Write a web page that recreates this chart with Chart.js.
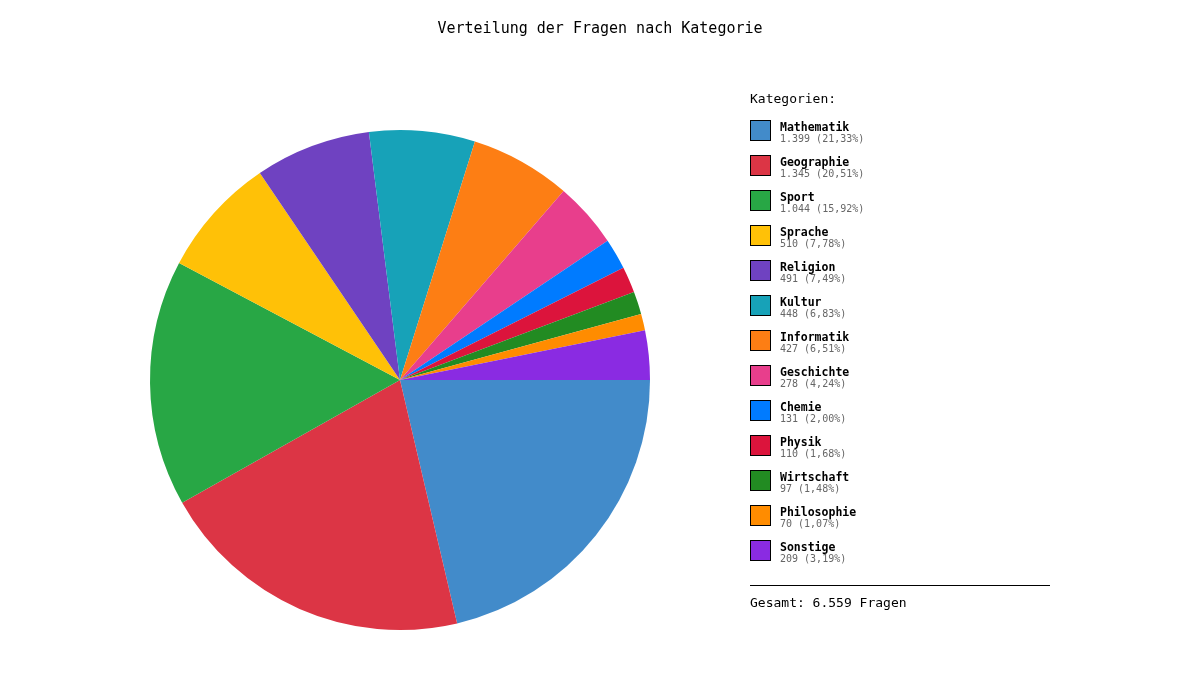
<!DOCTYPE html>
<html>
<head>
<meta charset="utf-8">
<script src="https://cdn.jsdelivr.net/npm/chart.js@4/dist/chart.umd.min.js"></script>
<style>
  html, body { margin: 0; padding: 0; background: #fff; }
  #wrap { width: 1200px; height: 700px; }
</style>
</head>
<body>
<div id="wrap"><canvas id="chart" width="1200" height="700"></canvas></div>
<script>
// categories and counts
const categories = ["Mathematik", "Geographie", "Sport", "Sprache", "Religion", "Kultur", "Informatik",
                    "Geschichte", "Chemie", "Physik", "Wirtschaft", "Philosophie", "Sonstige"];
const counts = [1399, 1345, 1044, 510, 491, 448, 427, 278, 131, 110, 97, 70, 209];
const colors = ["#428bca", "#dc3545", "#28a745", "#ffc107", "#6f42c1", "#17a2b8", "#fd7e14",
                "#e83e8c", "#007bff", "#dc143c", "#228b22", "#ff8c00", "#8a2be2"];

const MONO = '"DejaVu Sans Mono", "Liberation Mono", monospace';
const total = counts.reduce((a, b) => a + b, 0);

function fmtInt(n){
    return String(n).replace(/\B(?=(\d{3})+(?!\d))/g, ".");
}
function fmtPct(v){
    return (v * 100 / total).toFixed(2).replace(".", ",") + "%";
}

// title + side legend drawn by hand
const sideLegend = {
    id: "sideLegend",
    afterDraw(chart){
        const ctx = chart.ctx;
        ctx.save();
        ctx.fillStyle = "#000";
        ctx.textBaseline = "alphabetic";
        ctx.font = "15px " + MONO;
        ctx.textAlign = "center";
        ctx.fillText("Verteilung der Fragen nach Kategorie", 600, 33);

        ctx.textAlign = "left";
        ctx.font = "13px " + MONO;
        ctx.fillText("Kategorien:", 750, 103);

        let y = 120;
        for(let i = 0; i < categories.length; i++){
            ctx.fillStyle = colors[i];
            ctx.fillRect(750, y, 20, 20);
            ctx.strokeStyle = "#000";
            ctx.lineWidth = 1;
            ctx.strokeRect(750.5, y + 0.5, 20, 20);
            ctx.fillStyle = "#000";
            ctx.font = "bold 11.5px " + MONO;
            ctx.fillText(categories[i], 780, y + 11);
            ctx.fillStyle = "#666";
            ctx.font = "10px " + MONO;
            ctx.fillText(fmtInt(counts[i]) + " (" + fmtPct(counts[i]) + ")", 780, y + 22);
            y += 35;
        }

        ctx.strokeStyle = "#000";
        ctx.beginPath();
        ctx.moveTo(750, 585.5);
        ctx.lineTo(1050, 585.5);
        ctx.stroke();
        ctx.fillStyle = "#000";
        ctx.font = "13px " + MONO;
        ctx.fillText("Gesamt: " + fmtInt(total) + " Fragen", 750, 607);
        ctx.restore();
    }
};

new Chart(document.getElementById("chart").getContext("2d"), {
    type: "pie",
    data: {
        labels: categories,
        datasets: [{
            data: counts,
            backgroundColor: colors,
            borderWidth: 0
        }]
    },
    options: {
        responsive: false,
        animation: false,
        rotation: 90,
        layout: { padding: { left: 150, right: 550, top: 130, bottom: 70 } },
        plugins: {
            legend: { display: false },
            title: { display: false },
            tooltip: { enabled: false }
        }
    },
    plugins: [sideLegend]
});
</script>
</body>
</html>
